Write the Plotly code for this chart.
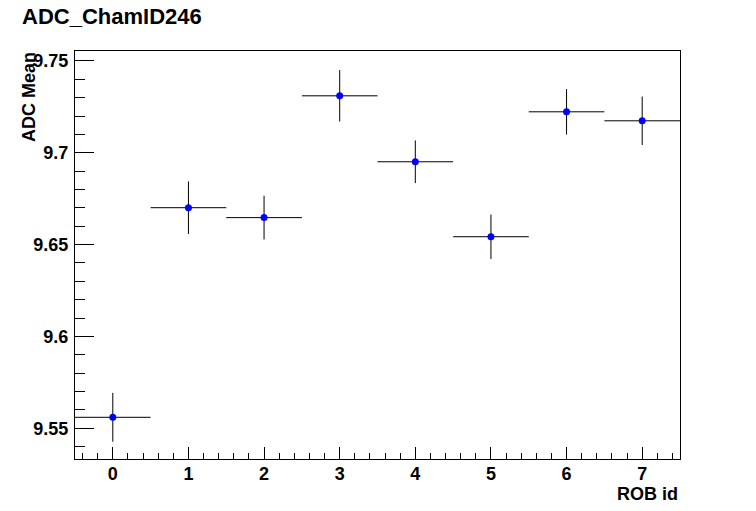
import plotly.graph_objects as go

rob_id = [0, 1, 2, 3, 4, 5, 6, 7]
adc_mean = [9.5560, 9.6701, 9.6647, 9.7310, 9.6951, 9.6543, 9.7223, 9.7174]
adc_err = [0.0133, 0.0143, 0.0119, 0.0140, 0.0116, 0.0121, 0.0124, 0.0132]
bin_half = [0.5] * 8
y_tickvals = [9.55, 9.6, 9.65, 9.7, 9.75]
y_ticktext = ["9.55", "9.6", "9.65", "9.7", "9.75"]

FONT = "Liberation Sans"
OFF = 8  # page body margin
W, H = 756 - OFF, 511 - OFF
L, T, R, B = 75 - OFF, 51 - OFF, W - (680 - OFF), H - (459 - OFF)
PW, PH = W - L - R, H - T - B

fig = go.Figure()
fig.add_trace(go.Scatter(
    x=rob_id, y=adc_mean, mode="markers",
    marker=dict(color="#0000ff", size=7, symbol="circle"),
    error_y=dict(type="data", array=adc_err, color="black", thickness=1, width=0),
    error_x=dict(type="data", array=bin_half, color="black", thickness=1, width=0),
    showlegend=False,
))

fig.update_layout(
    width=W, height=H,
    margin=dict(l=L, r=R, t=T, b=B, autoexpand=False),
    paper_bgcolor="white", plot_bgcolor="white",
    title=dict(text="ADC_ChamID246", x=(22 - OFF)/W, xanchor="left", xref="container",
               y=1-(16 - OFF)/H, yanchor="middle", yref="container",
               font=dict(family=FONT, size=22, color="black", weight="bold")),
    annotations=[
        dict(text="ADC Mean", textangle=-90, xref="paper", yref="paper",
             x=(29-75)/PW, y=1+1/PH, xanchor="center", yanchor="top",
             showarrow=False, font=dict(family=FONT, size=18, color="black", weight="bold")),
        dict(text="ROB id", xref="paper", yref="paper",
             x=1, y=-(494-459)/PH, xanchor="right", yanchor="middle",
             showarrow=False, font=dict(family=FONT, size=18, color="black", weight="bold")),
    ],
)

fig.update_xaxes(
    range=[-0.5, 7.5], tickmode="linear", tick0=0, dtick=1,
    ticks="inside", ticklen=12, tickwidth=1, tickcolor="black",
    minor=dict(dtick=0.2, tick0=0, ticks="inside", ticklen=6, tickcolor="black", tickwidth=1),
    showline=True, linecolor="black", linewidth=1, mirror=True,
    showgrid=False, zeroline=False, automargin=False, ticklabelstandoff=-2,
    tickfont=dict(family=FONT, size=18, color="black", weight="bold"),
)
fig.update_yaxes(
    range=[9.5333, 9.7554], tickmode="array", tickvals=y_tickvals, ticktext=y_ticktext,
    ticks="inside", ticklen=19, tickwidth=1, tickcolor="black",
    minor=dict(dtick=0.01, tick0=9.55, ticks="inside", ticklen=10, tickcolor="black", tickwidth=1),
    showline=True, linecolor="black", linewidth=1, mirror=True,
    showgrid=False, zeroline=False, automargin=False, ticklabelstandoff=2,
    tickfont=dict(family=FONT, size=18, color="black", weight="bold"),
)

fig.write_html("out.html")
